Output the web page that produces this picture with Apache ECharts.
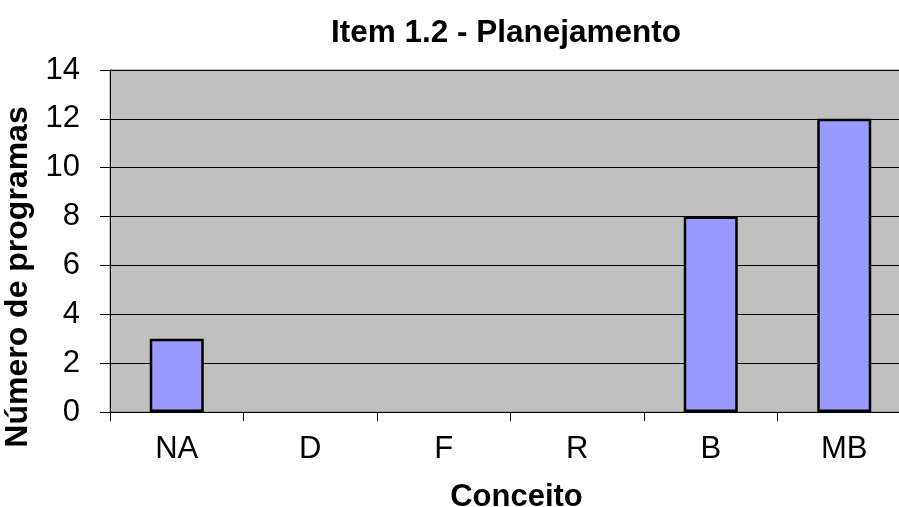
<!DOCTYPE html>
<html>
<head>
<meta charset="utf-8">
<script src="https://cdn.jsdelivr.net/npm/echarts@6/dist/echarts.min.js"></script>
<style>
  html, body { margin: 0; padding: 0; background: #fff; }
  #chart { width: 899px; height: 507px; }
</style>
</head>
<body>
<div id="chart"></div>
<script>
// categorias e valores
var categories = ["NA", "D", "F", "R", "B", "MB"];
var programas = [3, 0, 0, 0, 8, 12];
var yTicks = [0, 2, 4, 6, 8, 10, 12, 14];

var chart = echarts.init(document.getElementById("chart"));
chart.setOption({
  animation: false,
  backgroundColor: "#fff",
  title: {
    text: "Item 1.2 - Planejamento",
    left: 501,
    top: 12,
    textAlign: "center",
    textStyle: {
      fontFamily: "Liberation Sans",
      fontWeight: "bold",
      fontSize: 31.5,
      color: "#000"
    }
  },
  grid: {
    left: 110,
    right: -12,
    top: 70,
    bottom: 95,
    outerBoundsMode: "none",
    containLabel: false,
    show: true,
    backgroundColor: "#c0c0c0",
    borderColor: "#808080",
    borderWidth: 1
  },
  xAxis: {
    type: "category",
    data: categories,
    name: "Conceito",
    nameLocation: "middle",
    nameGap: 70,
    nameTextStyle: {
      fontFamily: "Liberation Sans",
      fontWeight: "bold",
      fontSize: 31,
      color: "#000",
      padding: [0, 0, 0, 12]
    },
    axisLine: { lineStyle: { color: "#000", width: 1 } },
    axisTick: { show: true, length: 9, lineStyle: { color: "#000" } },
    axisLabel: {
      margin: 22,
      fontFamily: "Liberation Sans",
      fontSize: 31,
      color: "#000"
    }
  },
  yAxis: {
    type: "value",
    min: 0,
    max: 14,
    interval: 2,
    name: "Número de programas",
    nameLocation: "middle",
    nameGap: 69,
    nameTextStyle: {
      fontFamily: "Liberation Sans",
      fontWeight: "bold",
      fontSize: 32,
      color: "#000",
      padding: [0, 72, 0, 0]
    },
    axisLine: { show: true, lineStyle: { color: "#000", width: 1 } },
    axisTick: { show: true, length: 10, lineStyle: { color: "#000" } },
    axisLabel: {
      margin: 30,
      fontFamily: "Liberation Sans",
      fontSize: 31,
      color: "#000",
      formatter: function (v) { return yTicks.indexOf(v) >= 0 ? String(v) : ""; }
    },
    splitLine: { show: true, lineStyle: { color: "#000", width: 1 } }
  },
  series: [
    {
      type: "bar",
      data: programas.map(function (v) {
        return v === 0 ? { value: v, itemStyle: { borderWidth: 0 } } : v;
      }),
      barWidth: 54,
      itemStyle: {
        color: "#9999ff",
        borderColor: "#000",
        borderWidth: 2.5
      }
    }
  ]
});
</script>
</body>
</html>
